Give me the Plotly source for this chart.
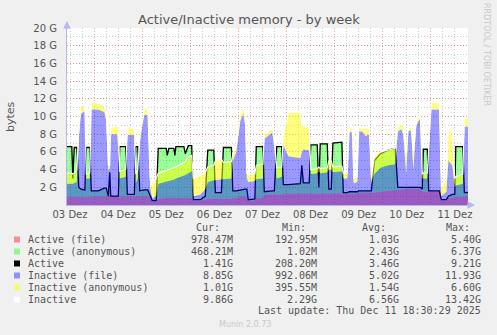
import plotly.graph_objects as go
from datetime import datetime, timedelta

# ---------------- data (GB), hours since 2025-12-03 10:30 ----------------
hours = [0, 2.4, 2.9, 3.6, 4.9, 5.9, 6.9, 8.9, 9.6, 11.4,
         12.1, 15.6, 18.6, 19.6, 20.6, 21.3, 21.8, 25.1, 25.6, 26.3,
         29.3, 30.1, 33.6, 34.3, 35.3, 36.3, 37.6, 38.6, 40.3, 41.5,
         42.5, 44.5, 45.5, 49.5, 50.0, 50.8, 53.3, 53.8, 54.3, 58.3,
         59.0, 60.5, 62.2, 63.0, 66.5, 69.0, 70.2, 73.2, 74.0, 77.0,
         78.0, 82.0, 82.7, 84.4, 86.4, 87.9, 88.9, 89.7, 90.4, 93.7,
         94.4, 97.7, 98.4, 102.4, 103.4, 104.6, 107.1, 107.9, 110.4, 116.4,
         117.1, 117.9, 120.8, 121.6, 124.8, 125.6, 126.3, 129.8, 130.6, 131.8,
         132.6, 137.1, 137.8, 139.8, 140.8, 142.3, 143.0, 144.8, 145.5, 147.3,
         148.8, 150.8, 151.8, 153.3, 156.3, 160.2, 163.7, 165.0, 166.7, 167.7,
         169.2, 170.2, 171.7, 172.7, 174.2, 176.2, 177.2, 177.7, 179.7, 180.4,
         181.7, 185.7, 186.7, 189.2, 190.2, 192.2, 193.4, 193.9, 197.4, 198.2,
         200]

active_file = [0.9, 0.9, 0.9, 0.9, 0.9, 0.9, 0.9, 0.9, 0.9, 0.9,
               1.0, 1.0, 1.0, 1.0, 1.0, 1.0, 1.0, 1.0, 1.0, 1.0,
               1.0, 1.0, 1.0, 1.0, 1.0, 1.0, 1.0, 1.0, 1.0, 0.8,
               0.4, 0.4, 0.7, 0.8, 0.8, 0.8, 0.8, 0.8, 0.8, 0.8,
               0.8, 0.8, 0.8, 0.5, 0.5, 0.6, 0.7, 0.7, 0.7, 0.7,
               0.7, 0.7, 0.8, 0.8, 1.0, 1.0, 1.0, 0.8, 0.5, 0.5,
               0.8, 0.8, 1.2, 1.2, 1.2, 1.2, 1.2, 1.3, 1.3, 1.3,
               1.3, 1.3, 1.3, 1.3, 1.3, 1.3, 1.3, 1.3, 1.3, 1.3,
               1.3, 1.3, 1.3, 1.3, 1.3, 1.3, 1.3, 1.3, 1.4, 1.4,
               1.4, 1.4, 1.4, 1.4, 1.5, 1.6, 1.7, 1.7, 1.8, 1.8,
               1.8, 1.8, 1.8, 1.8, 1.8, 1.8, 1.5, 1.5, 1.5, 1.5,
               1.5, 1.5, 0.5, 0.5, 0.8, 0.8, 0.9, 0.9, 0.9, 1.0,
               0.98]

active = [6.6, 6.6, 3.0, 6.5, 6.5, 2.0, 1.8, 1.7, 6.5, 6.5,
          1.6, 1.6, 1.9, 1.9, 1.0, 3.7, 1.0, 1.0, 1.0, 6.6,
          6.6, 1.2, 1.2, 6.6, 6.6, 1.6, 1.7, 1.7, 1.7, 1.0,
          0.5, 0.5, 6.4, 6.4, 5.6, 6.4, 6.4, 5.6, 6.6, 6.6,
          5.8, 6.7, 6.7, 0.6, 0.6, 1.0, 6.2, 6.2, 1.4, 1.4,
          6.5, 6.5, 1.6, 1.6, 1.7, 1.8, 1.8, 1.8, 0.6, 0.7,
          6.6, 6.6, 1.5, 1.6, 1.6, 6.6, 6.6, 2.3, 2.3, 2.4,
          4.5, 2.5, 2.5, 6.8, 6.8, 2.0, 6.9, 6.9, 1.8, 1.8,
          7.0, 7.1, 1.4, 1.4, 1.5, 1.5, 1.5, 1.5, 1.6, 1.6,
          1.6, 1.6, 1.6, 5.0, 5.8, 6.2, 6.4, 2.0, 2.0, 2.0,
          2.0, 2.0, 2.0, 2.0, 2.0, 2.0, 1.8, 6.3, 6.3, 1.6,
          1.6, 1.6, 0.6, 0.6, 1.0, 1.2, 1.2, 6.6, 6.6, 1.4,
          1.41]

inactive_file = [2.4, 2.4, 2.4, 2.5, 2.6, 7.5, 10.3, 10.6, 3.0, 3.0,
                 10.8, 10.8, 10.5, 9.5, 4.0, 4.0, 8.0, 8.0, 6.0, 3.0,
                 3.2, 7.9, 7.9, 2.5, 3.0, 7.0, 9.0, 10.2, 10.2, 2.0,
                 0.8, 1.0, 2.4, 2.6, 2.7, 2.7, 2.8, 2.9, 3.0, 3.3,
                 3.4, 3.6, 3.8, 1.0, 1.2, 1.8, 2.6, 2.8, 2.8, 2.9,
                 2.9, 3.0, 5.0, 6.0, 9.5, 10.3, 9.0, 3.0, 2.6, 2.7,
                 2.9, 3.0, 7.5, 8.2, 6.5, 3.0, 3.2, 6.8, 5.5, 5.3,
                 6.0, 6.3, 6.2, 3.5, 3.6, 3.8, 3.6, 3.7, 4.0, 4.0,
                 3.7, 3.8, 3.0, 3.0, 8.3, 8.2, 2.5, 2.6, 8.3, 8.3,
                 7.8, 8.0, 2.5, 3.5, 4.2, 4.5, 4.6, 8.3, 8.6, 8.0,
                 3.5, 8.4, 8.4, 4.0, 9.0, 9.8, 3.0, 3.0, 3.0, 6.0,
                 10.8, 10.8, 1.0, 1.5, 5.0, 4.5, 2.0, 2.2, 2.4, 8.85,
                 8.85]

inactive = [3.6, 3.6, 3.5, 3.6, 4.0, 8.6, 11.3, 11.3, 3.5, 3.6,
            11.6, 11.5, 11.2, 10.5, 4.5, 4.5, 8.8, 8.9, 10.0, 3.8,
            4.0, 8.7, 8.7, 3.5, 4.0, 7.8, 9.5, 11.0, 11.0, 2.8,
            2.2, 3.0, 3.6, 3.9, 4.0, 4.0, 4.2, 4.3, 4.3, 4.8,
            5.0, 5.4, 5.6, 3.0, 3.4, 3.7, 4.3, 4.5, 5.0, 5.2,
            4.8, 4.9, 5.8, 6.5, 10.2, 11.1, 10.0, 3.6, 3.5, 3.5,
            4.5, 4.6, 8.0, 8.7, 7.5, 4.2, 4.3, 8.0, 10.5, 10.5,
            9.0, 9.0, 8.6, 4.0, 4.1, 4.3, 4.1, 4.2, 5.0, 5.0,
            4.3, 4.4, 3.6, 3.6, 8.8, 8.6, 3.0, 3.2, 8.8, 8.6,
            8.7, 8.6, 3.0, 5.5, 6.0, 6.2, 6.4, 8.9, 9.2, 9.0,
            5.8, 8.8, 8.8, 6.0, 9.5, 10.3, 3.5, 3.6, 3.6, 6.5,
            11.6, 11.6, 2.0, 3.0, 8.8, 8.0, 3.0, 3.2, 3.5, 9.86,
            9.86]

legend_names = ["Active (file)", "Active (anonymous)", "Active",
                "Inactive (file)", "Inactive (anonymous)", "Inactive"]
cur_vals = ["978.47M", "468.21M", "1.41G", "8.85G", "1.01G", "9.86G"]
min_vals = ["192.95M", "1.02M", "208.20M", "992.06M", "395.55M", "2.29G"]
avg_vals = ["1.03G", "2.43G", "3.46G", "5.02G", "1.54G", "6.56G"]
max_vals = ["5.40G", "6.37G", "9.21G", "11.93G", "6.60G", "13.42G"]
y_ticks = [2, 4, 6, 8, 10, 12, 14, 16, 18, 20]
y_tick_text = ["%d G" % v for v in y_ticks]

# ---------------- styling ----------------
PINK = "rgba(255,0,0,0.4)"
GREEN = "rgba(0,255,0,0.4)"
BLUE = "rgba(0,0,255,0.4)"
YELLOW = "rgba(255,255,0,0.5)"
swatch_colors = [PINK, GREEN, "#000000", BLUE, YELLOW, "#ffffff"]

start = datetime(2025, 12, 3, 10, 30)
end = datetime(2025, 12, 11, 18, 30)
t = [start + timedelta(hours=h) for h in hours]

W, H = 497, 335
L, R, T, B = 67, 468, 28, 205
PW, PH = R - L, B - T


def px(x):
    return (x - L) / PW


def py(y):
    return (B - y) / PH


fig = go.Figure()
fig.add_trace(go.Scatter(x=t, y=active_file, mode="lines", line=dict(width=0),
                         fill="tozeroy", fillcolor=PINK, hoverinfo="skip"))
fig.add_trace(go.Scatter(x=t, y=active, mode="lines", line=dict(width=0),
                         fill="tonexty", fillcolor=GREEN, hoverinfo="skip"))
fig.add_trace(go.Scatter(x=t, y=active, mode="lines",
                         line=dict(width=1.3, color="#000000"), hoverinfo="skip"))
fig.add_trace(go.Scatter(x=t, y=inactive_file, mode="lines", line=dict(width=0),
                         fill="tozeroy", fillcolor=BLUE, hoverinfo="skip"))
fig.add_trace(go.Scatter(x=t, y=inactive, mode="lines", line=dict(width=0),
                         fill="tonexty", fillcolor=YELLOW, hoverinfo="skip"))
fig.add_trace(go.Scatter(x=t, y=inactive, mode="lines",
                         line=dict(width=1.1, color="#ffffff"), hoverinfo="skip"))

TXT = "#555555"
MONO = "DejaVu Sans Mono"
SANS = "DejaVu Sans"
MAJOR = "rgba(225,130,130,0.7)"
MINOR = "rgba(170,170,170,0.6)"
DOT = "1px,2px"

annotations = []
shapes = []

annotations.append(dict(text="Active/Inactive memory - by week", x=px(248.5), y=py(20),
                        xref="paper", yref="paper", showarrow=False,
                        font=dict(family=SANS, size=13, color=TXT),
                        xanchor="center", yanchor="middle"))
annotations.append(dict(text="bytes", x=px(11), y=py(117), xref="paper", yref="paper",
                        showarrow=False, textangle=-90,
                        font=dict(family=SANS, size=11, color=TXT),
                        xanchor="center", yanchor="middle"))
annotations.append(dict(text="RRDTOOL / TOBI OETIKER", x=px(487), y=py(54),
                        xref="paper", yref="paper", showarrow=False, textangle=90,
                        font=dict(family=SANS, size=8, color="#c8c8c8"),
                        xanchor="center", yanchor="middle"))
annotations.append(dict(text="Munin 2.0.73", x=px(245), y=py(324), xref="paper", yref="paper",
                        showarrow=False, font=dict(family=SANS, size=8, color="#c8c8c8"),
                        xanchor="center", yanchor="middle"))

headers = [("Cur:", 222), ("Min:", 308), ("Avg:", 388), ("Max:", 472)]
for text, xr in headers:
    annotations.append(dict(text=text, x=px(xr), y=py(227), xref="paper", yref="paper",
                            showarrow=False, font=dict(family=MONO, size=10, color=TXT),
                            xanchor="right", yanchor="middle"))
row_y = [239.5, 251.5, 263.5, 275.5, 287.5, 299.5]
cols = [(cur_vals, 235), (min_vals, 318.5), (avg_vals, 400.5), (max_vals, 483)]
for i, name in enumerate(legend_names):
    yc = row_y[i]
    annotations.append(dict(text=name, x=px(26), y=py(yc), xref="paper", yref="paper",
                            showarrow=False, font=dict(family=MONO, size=10, color=TXT),
                            xanchor="left", yanchor="middle"))
    for vals, xr in cols:
        annotations.append(dict(text=vals[i], x=px(xr), y=py(yc), xref="paper", yref="paper",
                                showarrow=False, font=dict(family=MONO, size=10, color=TXT),
                                xanchor="right", yanchor="middle"))
    shapes.append(dict(type="rect", xref="paper", yref="paper",
                       x0=px(14), x1=px(20), y0=py(yc + 3), y1=py(yc - 3),
                       fillcolor=swatch_colors[i], line=dict(width=0)))

annotations.append(dict(text="Last update: Thu Dec 11 18:30:29 2025", x=px(483), y=py(310),
                        xref="paper", yref="paper", showarrow=False,
                        font=dict(family=MONO, size=10, color=TXT),
                        xanchor="right", yanchor="middle"))

annotations.append(dict(x=px(475), y=0, xref="paper", yref="paper", ax=-9, ay=0,
                        text="", showarrow=True, arrowhead=2, arrowsize=1, arrowwidth=1.5,
                        arrowcolor="#b8b8f0"))
annotations.append(dict(x=0, y=py(21), xref="paper", yref="paper", ax=0, ay=9,
                        text="", showarrow=True, arrowhead=2, arrowsize=1, arrowwidth=1.5,
                        arrowcolor="#b8b8f0"))

fig.update_layout(
    width=W, height=H,
    margin=dict(l=L, r=W - R, t=T, b=H - B, pad=0),
    paper_bgcolor="#f0f0f0", plot_bgcolor="#ffffff",
    showlegend=False,
    annotations=annotations, shapes=shapes,
    xaxis=dict(type="date", range=[start, end], tick0="2025-12-03 00:00",
               dtick=86400000, ticklabelmode="period", tickformat="%d Dez",
               showgrid=True, gridcolor=MAJOR, griddash=DOT, gridwidth=1,
               minor=dict(dtick=6 * 3600000, tick0="2025-12-03 00:00", showgrid=True,
                          gridcolor=MINOR, griddash=DOT, gridwidth=1),
               showline=True, linecolor="#b8b8d8", linewidth=1,
               ticks="", tickfont=dict(family=SANS, size=10, color=TXT),
               zeroline=False, fixedrange=True, layer="below traces"),
    yaxis=dict(range=[0, 20], tickmode="array", tickvals=y_ticks, ticktext=y_tick_text,
               showgrid=True, gridcolor=MAJOR, griddash=DOT, gridwidth=1,
               minor=dict(tickmode="linear", tick0=0, dtick=1, showgrid=True,
                          gridcolor=MINOR, griddash=DOT, gridwidth=1),
               showline=True, linecolor="#b8b8e8", linewidth=1,
               ticks="", ticklabelstandoff=7,
               tickfont=dict(family=SANS, size=10, color=TXT),
               zeroline=False, fixedrange=True),
)

fig.write_html("out.html", config={"displayModeBar": False})
